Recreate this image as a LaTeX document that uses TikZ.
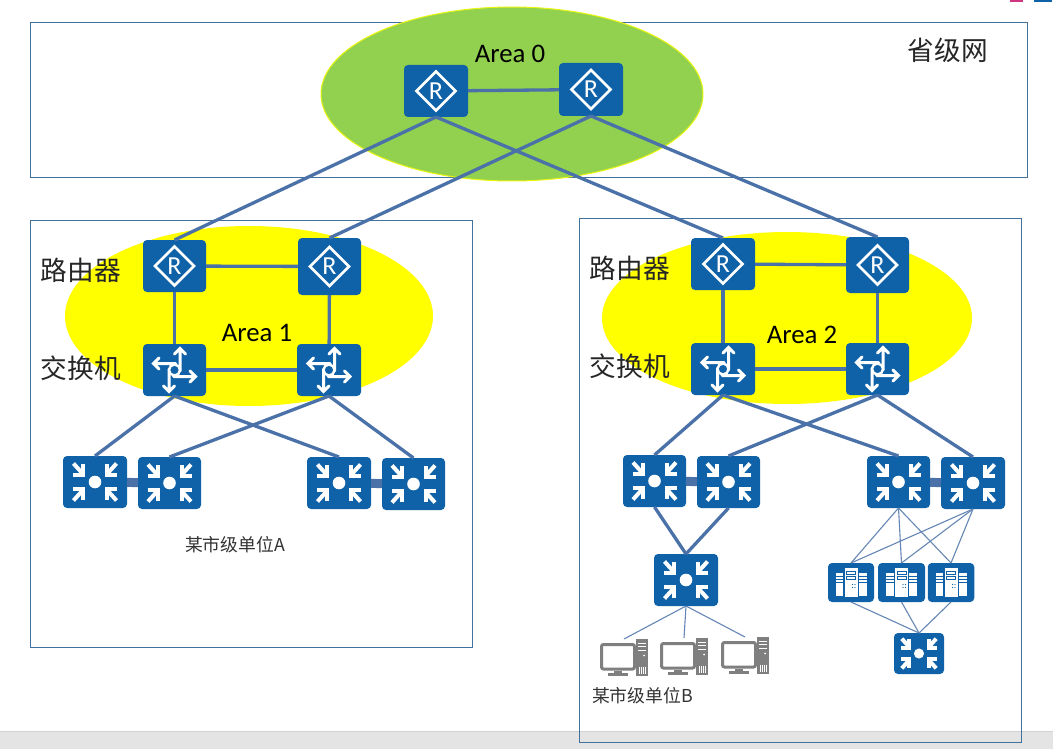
\documentclass[tikz,border=0pt]{standalone}
\usepackage{fontspec}
\setmainfont{Carlito}
\newfontfamily\cjk{Noto Sans CJK SC}
\definecolor{devblue}{HTML}{0F62A8}
\definecolor{linkblue}{HTML}{4A72A8}
\definecolor{boxline}{HTML}{41719C}
\definecolor{areagreen}{HTML}{92D050}
\definecolor{areayellow}{HTML}{FFFF00}
\definecolor{pcgrey}{HTML}{7F7F7F}
\definecolor{barbg}{HTML}{E4E4E4}
\definecolor{barline}{HTML}{D2D2D2}
\definecolor{scrappink}{HTML}{D0357F}
\tikzset{
  devbox/.style={fill=devblue,rounded corners=4pt,inner sep=0pt,outer sep=0pt,minimum width=63pt,minimum height=52pt},
  pcbox/.style={inner sep=0pt,outer sep=0pt,minimum width=48pt,minimum height=37pt},
  frame/.style={draw=boxline,line width=0.9pt},
  link/.style={draw=linkblue,line width=3.3pt},
  thicklink/.style={draw=linkblue,line width=9pt},
  thinlink/.style={draw=linkblue!85!white,line width=1.1pt},
  areatext/.style={font=\fontsize{26.8}{27}\selectfont,text=black,inner sep=0pt},
  bigcjk/.style={font=\cjk\fontsize{26.7}{27}\selectfont,text=black!85,inner sep=0pt},
  smallcjk/.style={font=\cjk\fontsize{17.8}{18}\selectfont,text=black!80,inner sep=0pt},
  routericon/.pic={
    \draw[white,line width=2.8pt,line join=miter] (-19.5,0)--(0,-19.5)--(19.5,0)--(0,19.5)--cycle;
    \node[text=white,inner sep=0pt,font=\fontsize{26}{26}\selectfont] at (0,0) {R};
  },
  switchicon/.pic={
    \begin{scope}[white,line width=3pt,line cap=round,line join=miter]
      \draw (5.5,1)--(5.5,-21.5) (0,-16)--(5.5,-21.5)--(11,-16);
      \draw (1,-6.5)--(-21,-6.5) (-15.5,-12)--(-21,-6.5)--(-15.5,-1);
      \draw (-1,6.5)--(21,6.5) (15.5,1)--(21,6.5)--(15.5,12);
      \draw (-5.5,-1)--(-5.5,21.5) (-11,16)--(-5.5,21.5)--(0,16);
      \draw[fill=devblue,line width=2.4pt] (0,0) circle (5.5);
    \end{scope}
  },
  coreicon/.pic={
    \fill[white] (0,0) circle (6.3);
    \begin{scope}[white,line width=4pt,line cap=butt,line join=miter]
      \foreach \sx/\sy in {-1/-1,1/-1,-1/1,1/1}{
        \draw (\sx*21.5,\sy*18.5)--(\sx*12,\sy*8);
        \draw (\sx*22,\sy*7)--(\sx*12,\sy*7)--(\sx*12,\sy*18);
      }
    \end{scope}
  },
  servericon/.pic={
    \fill[white] (-6.5,-15) rectangle (6.5,14);
    \fill[white] (-15.5,-10) rectangle (-7.8,13);
    \fill[white] (7.8,-10) rectangle (15.5,13);
    \draw[devblue,line width=0.8pt] (-4.5,-11) rectangle (4.5,-8.5) (-4.5,-6) rectangle (4.5,-3.5);
    \draw[devblue,line width=0.8pt] (-15.5,-6)--(-7.8,-6) (-15.5,-3)--(-7.8,-3) (-15.5,0)--(-7.8,0);
    \draw[devblue,line width=0.8pt] (7.8,-6)--(15.5,-6) (7.8,-3)--(15.5,-3) (7.8,0)--(15.5,0);
    \fill[devblue] (1.5,2) circle (0.7) (4,2) circle (0.7) (1.5,5) circle (0.7) (4,5) circle (0.7);
  },
  pcicon/.pic={
    \fill[pcgrey] (12,-18.5) rectangle (24,18.5);
    \draw[white,line width=0.7pt] (14,-14.5)--(22,-14.5) (14,-11)--(22,-11) (14,-7.5)--(22,-7.5);
    \fill[white] (20,-2) circle (1);
    \draw[white,line width=0.6pt] (15,9)--(15,16) (17,9)--(17,16) (19,9)--(19,16) (21,9)--(21,16);
    \draw[pcgrey,fill=white,line width=3pt,rounded corners=2pt] (-22.5,-13)rectangle(10.5,11.5);
    \fill[pcgrey] (-10,13) rectangle (-2,15.5);
    \fill[pcgrey] (-16,15.5) rectangle (4,18.5);
  }
}
\newcommand{\devnode}[6]{%
  \node[devbox,minimum width=#4pt,minimum height=#5pt] (#1) at (#2,#3) {};
  \pic at (#1.center) {#6};
}
\begin{document}
\begin{tikzpicture}[x=1pt,y=-1pt]
\useasboundingbox (0,0) rectangle (1053,749);
\fill[white] (0,0) rectangle (1053,749);
% window bar and clipped scraps at the page edges
\fill[barbg] (0,731) rectangle (1053,749);
\draw[barline,line width=1pt] (0,731)--(1053,731);
\fill[scrappink] (1010,0) rectangle (1023,2.5);
\fill[devblue] (1034,0) rectangle (1052,2);
% frames
\draw[frame] (30,22) rectangle (1027,177);
\draw[frame] (30,220) rectangle (472,647);
\draw[frame] (579,218) rectangle (1021,742);
% areas
\path[fill=areagreen,draw=areayellow!80!areagreen,line width=1pt] (512,94) ellipse [x radius=191,y radius=87];
\fill[areayellow] (249,316) ellipse [x radius=184,y radius=90];
\fill[areayellow] (787,318) ellipse [x radius=185,y radius=86];
% devices
\devnode{ra}{436}{91}{64}{52}{routericon}
\devnode{rb}{591}{89.5}{64}{53}{routericon}
\devnode{la}{174.5}{266}{63}{52}{routericon}
\devnode{lb}{329.5}{266.5}{63}{57}{routericon}
\devnode{lc}{174.5}{370}{63}{52}{switchicon}
\devnode{ld}{329}{370}{64}{52}{switchicon}
\devnode{le}{95}{482}{64}{52}{coreicon}
\devnode{lf}{169.5}{483}{63}{52}{coreicon}
\devnode{lg}{339}{483}{64}{52}{coreicon}
\devnode{lh}{413.5}{484}{63}{52}{coreicon}
\devnode{ma}{723}{264}{64}{52}{routericon}
\devnode{mb}{877.5}{265}{63}{56}{routericon}
\devnode{mc}{723}{369}{64}{52}{switchicon}
\devnode{md}{877.5}{369}{63}{52}{switchicon}
\devnode{me}{654.5}{481}{63}{52}{coreicon}
\devnode{mf}{728.5}{482}{63}{52}{coreicon}
\devnode{mg}{898.5}{482}{63}{52}{coreicon}
\devnode{mh}{973}{483}{64}{52}{coreicon}
\devnode{mi}{686}{580}{64}{52}{coreicon}
\node[devbox,minimum width=46pt,minimum height=39pt] (sa) at (851,582.5) {};
\pic at (sa.center) {servericon};
\node[devbox,minimum width=47pt,minimum height=39pt] (sb) at (901.5,582.5) {};
\pic at (sb.center) {servericon};
\node[devbox,minimum width=46.5pt,minimum height=39pt] (sc) at (951,582.5) {};
\pic at (sc.center) {servericon};
\node[devbox,minimum width=50pt,minimum height=41pt] (mj) at (919,653.5) {};
\pic[scale=0.8] at (mj.center) {coreicon};
\node[pcbox] (pa) at (624,657.5) {};
\pic at (pa.center) {pcicon};
\node[pcbox] (pb) at (684,656.5) {};
\pic at (pb.center) {pcicon};
\node[pcbox] (pc) at (745,655.5) {};
\pic at (pc.center) {pcicon};
% connectors
\draw[link] (ra)--(rb);
\draw[link] (ra.south)--(la.north);
\draw[link] (ra.south)--(ma.north);
\draw[link] (rb.south)--(lb.north);
\draw[link] (rb.south)--(mb.north);
\draw[link] (la)--(lb);
\draw[link] (lc)--(ld);
\draw[link] (la)--(lc);
\draw[link] (lb)--(ld);
\draw[link] (lc.south)--(le.north);
\draw[link] (lc.south)--(lg.north);
\draw[link] (ld.south)--(lf.north);
\draw[link] (ld.south)--(lh.north);
\draw[thicklink] (le)--(lf);
\draw[thicklink] (lg)--(lh);
\draw[link] (ma)--(mb);
\draw[link] (mc)--(md);
\draw[link] (ma)--(mc);
\draw[link] (mb)--(md);
\draw[link] (mc.south)--(me.north);
\draw[link] (mc.south)--(mg.north);
\draw[link] (md.south)--(mf.north);
\draw[link] (md.south)--(mh.north);
\draw[thicklink] (me)--(mf);
\draw[thicklink] (mg)--(mh);
\draw[link] (me.south)--(mi.north);
\draw[link] (mf.south)--(mi.north);
\foreach \p in {pa,pb,pc}{\draw[thinlink] (mi.south)--(\p.north);}
\foreach \s in {sa,sb,sc}{
  \draw[thinlink] (mg.south)--(\s.north);
  \draw[thinlink] (mh.south)--(\s.north);
  \draw[thinlink] (\s.south)--(mj.north);
}
% labels
\node[areatext] (t0) at (510,54) {Area 0};
\node[areatext] (t1) at (257,333) {Area 1};
\node[areatext] (t2) at (802,335) {Area 2};
\node[bigcjk] (t3) at (948,50) {省级网};
\node[bigcjk] (t4) at (81,270) {路由器};
\node[bigcjk] (t5) at (81,368) {交换机};
\node[bigcjk] (t6) at (630,268) {路由器};
\node[bigcjk] (t7) at (630,366) {交换机};
\node[smallcjk] (t8) at (235,545) {某市级单位A};
\node[smallcjk] (t9) at (642.5,696) {某市级单位B};
\end{tikzpicture}
\end{document}
